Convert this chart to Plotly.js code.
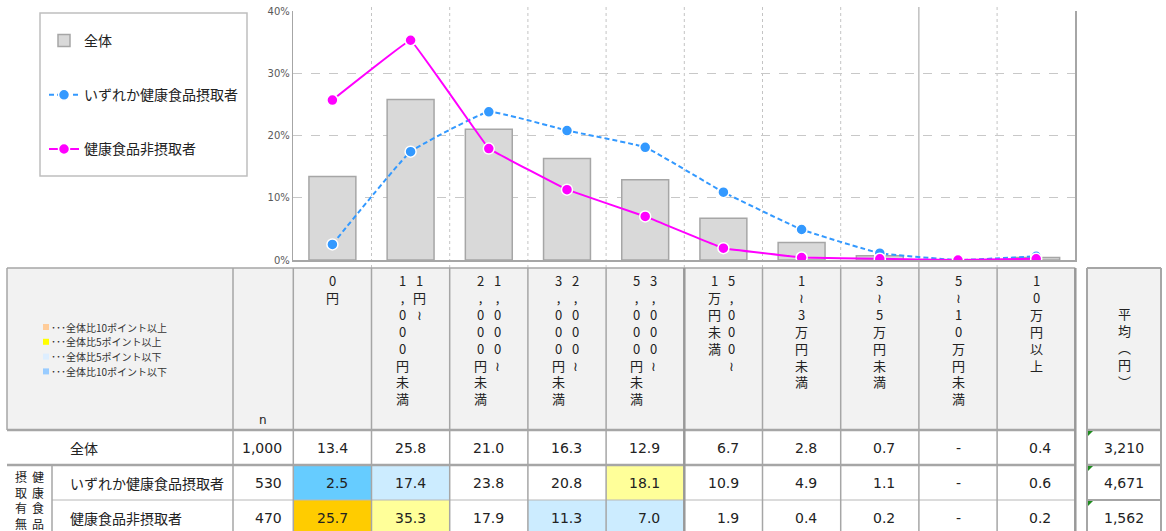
<!DOCTYPE html>
<html><head><meta charset="utf-8">
<script src="https://cdn.plot.ly/plotly-3.0.1.min.js"></script>
<style>html,body{margin:0;padding:0;background:#fff}</style>
</head><body><div id="chart" style="width:1166px;height:531px"></div>
<script>
// ---------------- data ----------------
const categories = ['0円','1円～|1,000円未満','1,000～|2,000円未満','2,000～|3,000円未満','3,000～|5,000円未満','5,000～|1万円未満','1～3万円未満','3～5万円未満','5～10万円未満','10万円以上'];
const seriesNames = ['全体','いずれか健康食品摂取者','健康食品非摂取者'];
const overall  = [13.4,25.8,21.0,16.3,12.9,6.7,2.8,0.7,0,0.4];
const anyTaker = [2.5,17.4,23.8,20.8,18.1,10.9,4.9,1.1,0,0.6];
const nonTaker = [25.7,35.3,17.9,11.3,7.0,1.9,0.4,0.2,0,0.2];
const nValues  = [1000,530,470];
const avgValues = [3210,4671,1562];
const yTickVals = [0,10,20,30,40];
const groupLabel = ['健康食品','摂取有無'];
const avgHeader = '平均︵円︶';
const nHeader = 'n';
const colorLegendLabels = ['･･･全体比10ポイント以上','･･･全体比5ポイント以上','･･･全体比5ポイント以下','･･･全体比10ポイント以下'];

// ---------------- styling / geometry ----------------
const W = 1166, H = 531;
const fx = x => x / W, fy = y => 1 - y / H;
const plotL = 293.3, plotR = 1075.3, plotT = 11, plotB = 260;
const catW = (plotR - plotL) / categories.length;
const bx = i => plotL + i * catW;
const tableTop = 268, headBot = 430, rowB = [430, 465, 500, 535];
const JP = "'Noto Sans CJK JP', 'Noto Sans', sans-serif";
const NUM = "'DejaVu Sans', Verdana, sans-serif";
const gridC = '#a6a6a6';
const swatchColors = ['#FFCC99','#FFFF00','#DDEEFF','#99CCFF'];
function cellColor(v, base) {
  const d = v - base;
  if (d >= 10) return '#FFCC00';
  if (d >= 5) return '#FFFF99';
  if (d <= -10) return '#66CCFF';
  if (d <= -5) return '#CCECFF';
  return null;
}
const xCats = categories.map(c => c.replace('|',''));

// ---------------- traces ----------------
const traces = [
  {type:'bar', x:xCats, y:overall, name:seriesNames[0], legendgroup:'a',
   marker:{color:'#D9D9D9', line:{color:'#A6A6A6', width:1.5}}, hoverinfo:'skip'},
  {type:'scatter', mode:'lines+markers', x:xCats, y:anyTaker, name:seriesNames[1], legendgroup:'b',
   line:{color:'#3399FF', width:2, dash:'5px,3px', shape:'spline', smoothing:0.3},
   marker:{size:11, color:'#3399FF', line:{color:'#FFFFFF', width:1.5}}, hoverinfo:'skip'},
  {type:'scatter', mode:'lines+markers', x:xCats, y:nonTaker, name:seriesNames[2], legendgroup:'c',
   line:{color:'#FF00FF', width:2, shape:'spline', smoothing:0.1},
   marker:{size:11, color:'#FF00FF', line:{color:'#FFFFFF', width:1.5}}, hoverinfo:'skip'}
];

// ---------------- shapes ----------------
const shapes = [];
const line = (x0,y0,x1,y1,color,width,dash) => shapes.push({type:'line', xref:'paper', yref:'paper',
  x0:fx(x0), y0:fy(y0), x1:fx(x1), y1:fy(y1), line:{color:color, width:width, dash:dash||'solid'}, layer:'above'});
const rect = (x0,y0,x1,y1,fill,lc,lw) => shapes.push({type:'rect', xref:'paper', yref:'paper',
  x0:fx(x0), y0:fy(y0), x1:fx(x1), y1:fy(y1), fillcolor:fill, line:{color:lc||'rgba(0,0,0,0)', width:lw||0}, layer:'below'});

// chart legend box
rect(40, 13, 247, 176, 'rgba(0,0,0,0)', '#BFBFBF', 1.5);
// vertical dotted gridlines at category boundaries (through the x axis)
for (let i = 1; i < categories.length; i++) {
  shapes.push({type:'line', xref:'x', yref:'paper', x0:i-0.5, x1:i-0.5, y0:fy(tableTop), y1:fy(7),
    line:{color: i===8 ? '#A0A0A0' : '#C4C4C4', width:1, dash: i===8 ? 'solid' : 'dot'}, layer:'below'});
}
// header backgrounds
rect(7, tableTop, plotR, headBot, '#F2F2F2');
rect(1087, tableTop, 1161, headBot, '#F2F2F2');
// coloured cells
[anyTaker, nonTaker].forEach((arr, r) => {
  arr.forEach((v, i) => {
    const c = cellColor(v, overall[i]);
    if (c) shapes.push({type:'rect', xref:'x', yref:'paper', x0:i-0.5, x1:i+0.5,
      y0:fy(rowB[r+2]), y1:fy(rowB[r+1]), fillcolor:c, line:{width:0}, layer:'below'});
  });
});
// table horizontal lines
line(7, tableTop, plotR, tableTop, gridC, 1.5);
line(7, headBot, plotR, headBot, gridC, 2.5);
line(7, rowB[1], plotR, rowB[1], gridC, 2.5);
line(52, rowB[2], plotR, rowB[2], '#B8B8B8', 1);
// table vertical lines
line(7, tableTop, 7, headBot, gridC, 1.5);
line(52, rowB[1], 52, H, gridC, 1.5);
line(233, tableTop, 233, H, gridC, 1.5);
for (let i = 0; i <= categories.length; i++) {
  const thick = (i === 5 || i === 10);
  line(bx(i), tableTop, bx(i), H, thick ? '#999999' : gridC, thick ? 2.5 : 1.5);
}
// average box
line(1087, tableTop, 1087, H, gridC, 2);
line(1161, tableTop, 1161, H, gridC, 2);
line(1087, tableTop, 1161, tableTop, gridC, 2);
line(1087, headBot, 1161, headBot, gridC, 2.5);
line(1087, rowB[1], 1161, rowB[1], gridC, 2.5);
line(1087, rowB[2], 1161, rowB[2], gridC, 2);
// green error indicators
[rowB[0], rowB[1], rowB[2]].forEach(y => {
  shapes.push({type:'path', xref:'paper', yref:'paper', layer:'above',
    path:`M ${fx(1088)},${fy(y+1)} L ${fx(1093)},${fy(y+1)} L ${fx(1088)},${fy(y+6)} Z`,
    fillcolor:'#1E8C1E', line:{width:0}});
});
// colour legend swatches in header
swatchColors.forEach((c, k) => {
  const yc = 327 + k * 14.8;
  rect(43, yc-3, 49, yc+3, c);
});

// ---------------- annotations ----------------
const ann = [];
const txt = (o) => ann.push(Object.assign({showarrow:false, xref:'paper', yref:'paper'}, o));
// header category labels (vertical text)
categories.forEach((c, i) => {
  const parts = c.split('|');
  const toV = s => s.replace(/～/g, '≀').split('').join('<br>');
  const offs = parts.length === 2 ? [8.5, -8.5] : [0];
  parts.forEach((p, k) => {
    ann.push({showarrow:false, xref:'x', yref:'paper', x:xCats[i], xshift:offs[k],
      y:fy(269), yanchor:'top', xanchor:'center', align:'center',
      text:toV(p), font:{family:JP, size:13, color:'#222'}});
  });
});
// n header
txt({x:fx(263), y:fy(429), yanchor:'bottom', xanchor:'center', text:nHeader, font:{family:NUM, size:12, color:'#222'}});
// average header
txt({x:fx(1124), y:fy(302), yanchor:'top', xanchor:'center', align:'center',
  text:avgHeader.split('').join('<br>'), font:{family:JP, size:13, color:'#222'}});
// colour legend labels
colorLegendLabels.forEach((t, k) => {
  txt({x:fx(49), y:fy(327 + k * 14.8), xanchor:'left', yanchor:'middle', text:t, font:{family:JP, size:10, color:'#333'}});
});
// row labels
const rowCenters = [0,1,2].map(r => (rowB[r] + Math.min(rowB[r+1], 536)) / 2);
seriesNames.forEach((s, r) => {
  txt({x:fx(68), y:fy(rowCenters[r]), xanchor:'left', yanchor:'middle', text:s, font:{family:JP, size:14, color:'#222'}});
});
// group label (vertical, two columns, right column first)
const grpY = 466;
[38, 21].forEach((xx, k) => {
  txt({x:fx(xx), y:fy(grpY), xanchor:'center', yanchor:'top', align:'center',
    text:groupLabel[k].split('').join('<br>'), font:{family:JP, size:12, color:'#222'}});
});
// n values
nValues.forEach((n, r) => {
  txt({x:fx(284), y:fy(rowCenters[r]), xanchor:'right', yanchor:'middle',
    text:n.toLocaleString('en-US'), font:{family:NUM, size:14, color:'#222'}});
});
// average values
avgValues.forEach((v, r) => {
  txt({x:fx(1146), y:fy(rowCenters[r]), xanchor:'right', yanchor:'middle',
    text:v.toLocaleString('en-US'), font:{family:NUM, size:14, color:'#222'}});
});
// cell values
[overall, anyTaker, nonTaker].forEach((arr, r) => {
  arr.forEach((v, i) => {
    const isZero = v === 0;
    ann.push({showarrow:false, xref:'x', yref:'paper', x:xCats[i],
      xshift: isZero ? 0 : catW/2 - 22, xanchor: isZero ? 'center' : 'right',
      y:fy(rowCenters[r]), yanchor:'middle', text: isZero ? '-' : v.toFixed(1),
      font:{family:NUM, size:14, color:'#222'}});
  });
});

// ---------------- layout ----------------
const layout = {
  width:W, height:H, margin:{l:0, r:0, t:0, b:0},
  paper_bgcolor:'#FFFFFF', plot_bgcolor:'#FFFFFF',
  showlegend:true,
  legend:{x:fx(44), y:fy(25), xanchor:'left', yanchor:'top', bgcolor:'rgba(0,0,0,0)', borderwidth:0,
    font:{family:JP, size:14, color:'#222'}, tracegroupgap:33, traceorder:'grouped'},
  bargap:0.4,
  xaxis:{type:'category', domain:[fx(plotL), fx(plotR)], range:[-0.5, categories.length-0.5],
    showticklabels:false, showgrid:false, zeroline:false, ticks:'', showline:true, linecolor:'#A6A6A6', linewidth:1.5, fixedrange:true},
  yaxis:{domain:[fy(plotB), fy(plotT)], range:[0,40], tickvals:yTickVals, ticktext:yTickVals.map(v=>v+'%'),
    tickfont:{family:NUM, size:10, color:'#595959'}, showgrid:true, gridcolor:'#C8C8C8', griddash:'dash', gridwidth:1,
    zeroline:false, showline:true, mirror:true, linecolor:'#A6A6A6', linewidth:1.5, ticks:'', fixedrange:true},
  shapes:shapes, annotations:ann
};
Plotly.newPlot('chart', traces, layout, {staticPlot:true, displayModeBar:false});
</script></body></html>
